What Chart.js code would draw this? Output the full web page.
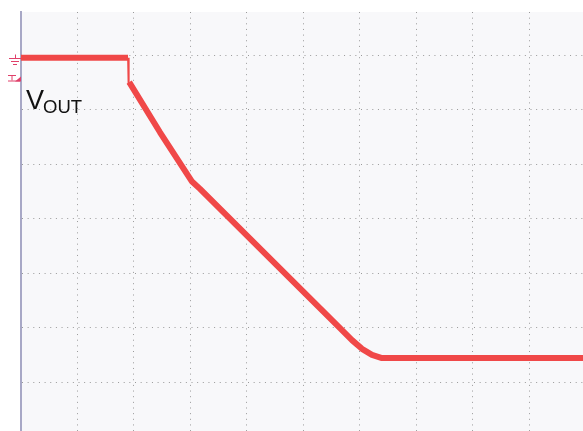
<!DOCTYPE html>
<html>
<head>
<meta charset="utf-8">
<script src="https://cdn.jsdelivr.net/npm/chart.js@4.4.1/dist/chart.umd.min.js"></script>
<style>
  html, body { margin: 0; padding: 0; background: #ffffff; overflow: hidden; }
  #wrap { position: relative; width: 583px; height: 431px; }
  #scope { display: block; }
  .lbl { position: absolute; font-family: "Liberation Sans", Arial, sans-serif; color: #111111; line-height: 1; white-space: nowrap; }
  #vMain { left: 26px; top: 87px; font-size: 27px; }
  #vSub { left: 43px; top: 98px; font-size: 18.5px; }
</style>
</head>
<body>
<div id="wrap">
  <canvas id="scope" width="583" height="431"></canvas>
  <div class="lbl" id="vMain">V</div>
  <div class="lbl" id="vSub">OUT</div>
</div>
<script>
// Kanal 1 (VOUT) - yatay ve dikey eksen bölme cinsinden (null = çizgi kesilir)
const timeDiv = [0, 1.894, 1.905, 1.915, 2.460, 3.021, 3.168, 5.646, 5.858, 6.035, 6.212, 6.389, 9.947];
const voutDiv = [6.96, 6.96, null, 6.51, 5.59, 4.69, 4.55, 1.99, 1.77, 1.61, 1.50, 1.44, 1.44];

// Düşen kenar (ince dikey çizgi)
const edgeTime = [1.896, 1.905];
const edgeVout = [6.96, 6.46];

// Izgara çizgileri
const gridX = [1, 2, 3, 4, 5, 6, 7, 8, 9];
const gridY = [1, 2, 3, 4, 5, 6, 7];

const traceColor = "#f04848";

const toPoints = (xs, ys) => xs.map((x, i) => ({ x: x, y: ys[i] }));

// Ekran arka planı
const screenBg = {
    id: "screenBg",
    beforeDraw(chart) {
        const { ctx, chartArea: a } = chart;
        ctx.save();
        ctx.fillStyle = "#f8f8fa";
        ctx.fillRect(a.left, a.top, a.right - a.left, a.bottom - a.top);
        ctx.restore();
    },
};

// Sol kenardaki toprak ve tetik işaretleri
const markers = {
    id: "markers",
    afterDraw(chart) {
        const ctx = chart.ctx;
        const y = chart.scales.y;
        const gy = Math.round(y.getPixelForValue(voutDiv[0])) + 0.5;
        ctx.save();
        ctx.strokeStyle = "#e0406a";
        ctx.fillStyle = "#e0406a";
        ctx.lineWidth = 1;
        ctx.beginPath();
        ctx.moveTo(15.5, gy - 4); ctx.lineTo(15.5, gy);
        ctx.moveTo(9, gy); ctx.lineTo(21, gy);
        ctx.moveTo(11, gy + 3); ctx.lineTo(19, gy + 3);
        ctx.moveTo(13, gy + 6); ctx.lineTo(17, gy + 6);
        ctx.stroke();

        // tetik seviyesi
        const ty = gy + 17;
        ctx.beginPath();
        ctx.moveTo(8, ty); ctx.lineTo(16, ty);
        ctx.moveTo(12, ty); ctx.lineTo(12, ty + 5);
        ctx.moveTo(8, ty + 5.5); ctx.lineTo(20, ty + 5.5);
        ctx.stroke();
        ctx.beginPath();
        ctx.moveTo(15, ty + 6); ctx.lineTo(21, ty + 6); ctx.lineTo(21, ty + 1);
        ctx.closePath();
        ctx.fill();
        ctx.restore();
    },
};

new Chart(document.getElementById("scope"), {
    type: "scatter",
    data: {
        datasets: [
            {
                label: "VOUT",
                data: toPoints(timeDiv, voutDiv),
                showLine: true,
                spanGaps: false,
                borderColor: traceColor,
                backgroundColor: traceColor,
                borderWidth: 6,
                borderJoinStyle: "round",
                pointRadius: 0,
                tension: 0,
            },
            {
                label: "VOUT kenar",
                data: toPoints(edgeTime, edgeVout),
                showLine: true,
                borderColor: traceColor,
                borderWidth: 2,
                pointRadius: 0,
            },
        ],
    },
    options: {
        responsive: false,
        animation: false,
        layout: { padding: { left: 21, top: 12, right: 0, bottom: 0 } },
        plugins: {
            legend: { display: false },
            tooltip: { enabled: false },
        },
        scales: {
            x: {
                type: "linear",
                min: 0,
                max: 9.947,
                afterBuildTicks: (s) => { s.ticks = gridX.map(v => ({ value: v })); },
                ticks: { display: false },
                grid: { color: "#9a9a9a", lineWidth: 1, drawTicks: false },
                border: { display: false, dash: [1, 4.65] },
            },
            y: {
                type: "linear",
                min: 0.10,
                max: 7.80,
                afterBuildTicks: (s) => { s.ticks = gridY.map(v => ({ value: v })); },
                ticks: { display: false },
                grid: { color: "#9a9a9a", lineWidth: 1, drawTicks: false },
                border: { display: true, color: "#a8a8c6", width: 2, dash: [1, 4.65] },
            },
        },
    },
    plugins: [screenBg, markers],
});
</script>
</body>
</html>
